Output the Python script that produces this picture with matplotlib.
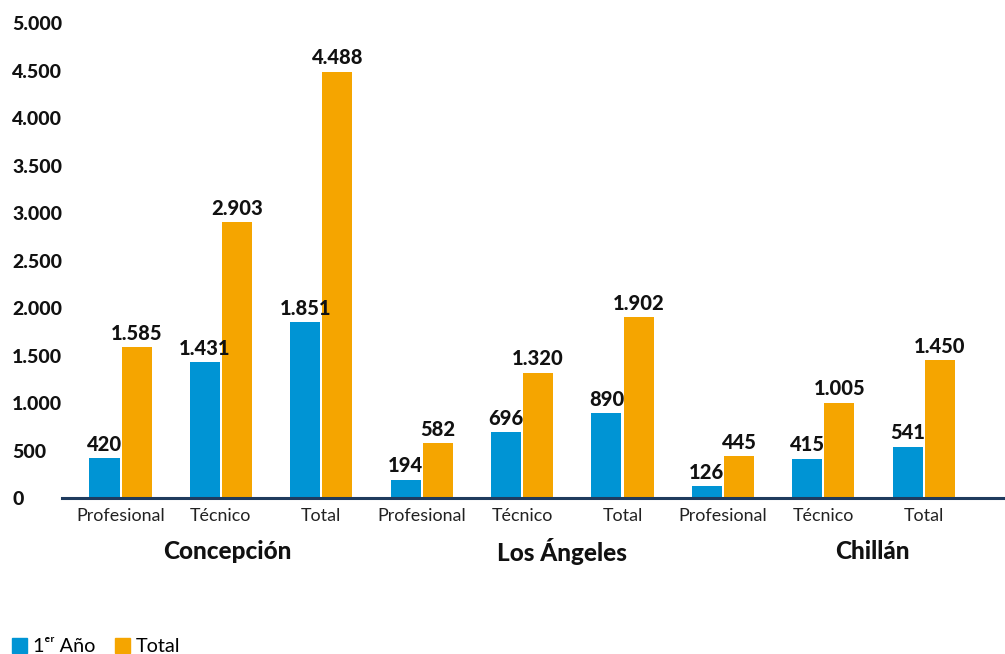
import matplotlib
matplotlib.use("Agg")
import matplotlib.pyplot as plt
from matplotlib.patches import Patch
from matplotlib.ticker import FuncFormatter

plt.rcParams['font.family'] = ['Lato', 'DejaVu Sans']

groups = ["Concepción", "Los Ángeles", "Chillán"]
subcats = ["Profesional", "Técnico", "Total", "Profesional", "Técnico", "Total",
           "Profesional", "Técnico", "Total"]
primer_anio = [420, 1431, 1851, 194, 696, 890, 126, 415, 541]
total = [1585, 2903, 4488, 582, 1320, 1902, 445, 1005, 1450]
series_names = ["1ᵉʳ Año", "Total"]

c_blue = "#0094D4"
c_orange = "#F5A500"
c_axis = "#1F3B5E"

def fmt(v):
    return f"{int(v):,}".replace(",", ".")

fig = plt.figure(figsize=(10.05, 6.54), dpi=100)
ax = fig.add_axes([0.0617, 0.2385, 0.9363, 0.7263])

x = list(range(len(subcats)))
w = 0.3
gap = 0.02
xb = [i - w / 2 - gap / 2 for i in x]
xo = [i + w / 2 + gap / 2 for i in x]
bb = ax.bar(xb, primer_anio, width=w, color=c_blue, zorder=2)
bo = ax.bar(xo, total, width=w, color=c_orange, zorder=2)

for rects, vals in ((bb, primer_anio), (bo, total)):
    for r, v in zip(rects, vals):
        ax.annotate(fmt(v), (r.get_x() + r.get_width() / 2, v), xytext=(0, 3),
                    textcoords="offset points", ha="center", va="bottom",
                    fontsize=14.5, fontweight="black", color="#111111")

ax.set_ylim(0, 5000)
ax.set_xlim(-0.583, 8.79)
ax.set_yticks(range(0, 5001, 500))
ax.yaxis.set_major_formatter(FuncFormatter(lambda v, p: fmt(v)))
ax.tick_params(axis="y", length=0, pad=36)
for lbl in ax.get_yticklabels():
    lbl.set_horizontalalignment("left")
    lbl.set_fontweight("black")
    lbl.set_fontsize(14)
    lbl.set_color("#111111")

ax.set_xticks(x)
ax.set_xticklabels(subcats, fontsize=12.9, color="#222222")
ax.tick_params(axis="x", length=0, pad=7.5)

for s in ["top", "right", "left"]:
    ax.spines[s].set_visible(False)
ax.spines["bottom"].set_color(c_axis)
ax.spines["bottom"].set_linewidth(2.2)
ax.spines["bottom"].set_zorder(3)

group_x = [1.06, 4.40, 7.49]
for gx, g in zip(group_x, groups):
    ax.text(gx, -0.112, g, transform=ax.get_xaxis_transform(), ha="center",
            va="center", fontsize=17.5, fontweight="black", color="#111111")

handles = [Patch(color=c_blue), Patch(color=c_orange)]
fig.legend(handles, series_names, loc="lower left", bbox_to_anchor=(0.0, -0.02),
           ncol=2, frameon=False, fontsize=14.3, handlelength=0.75, handleheight=0.75,
           handletextpad=0.3, columnspacing=1.0, borderaxespad=0.2)

fig.savefig("out.png", dpi=100)
